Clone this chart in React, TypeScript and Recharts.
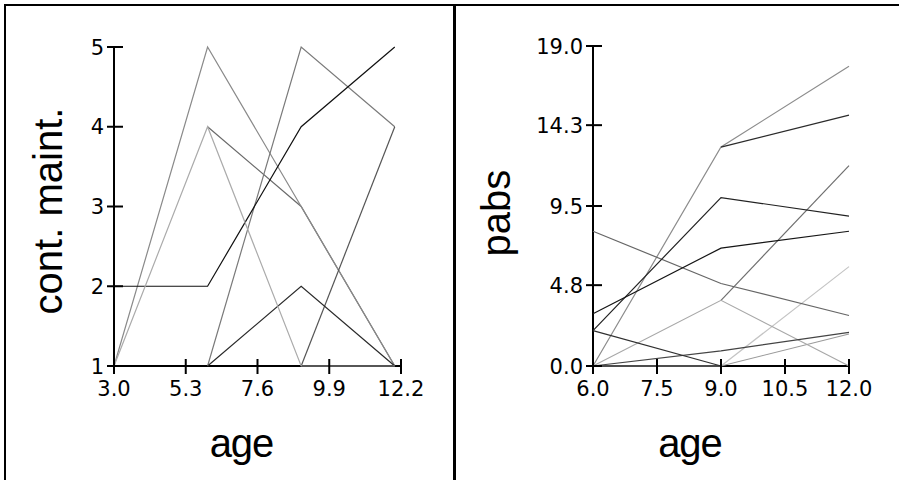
import React from 'react';
import { LineChart, Line, XAxis, YAxis, Label } from 'recharts';

// ---------- left panel: cont. maint. vs age ----------
const leftAges = [3, 6, 9, 12];
const leftXTicks = [3.0, 5.3, 7.6, 9.9, 12.2];
const leftYTicks = [1, 2, 3, 4, 5];
const contA = [2, 2, 4, 5];
const contB = [1, 5, 3, 1];
const contC = [null, 4, 3, 1];
const contD = [1, 4, 1, 1];
const contE = [null, 1, 5, 4];
const contF = [null, 1, 2, 1];
const contG = [null, null, 1, 4];
const leftSeries = [contC, contB, contE, contG, contF, contA, contD];
const leftColors = ['#6a6a6a', '#8a8a8a', '#7a7a7a', '#555555', '#2a2a2a', '#111111', '#ababab'];

// ---------- right panel: pabs vs age ----------
const rightAges = [6, 9, 12];
const rightXTicks = [6.0, 7.5, 9.0, 10.5, 12.0];
const rightYTicks = [0.0, 4.8, 9.5, 14.3, 19.0];
const pabsA = [0, 13.0, 17.8];
const pabsB = [null, 13.0, 14.9];
const pabsC = [2.1, 10.0, 8.9];
const pabsD = [3.1, 7.0, 8.0];
const pabsE = [8.0, 4.9, 3.0];
const pabsF = [2.1, 0, null];
const pabsG = [0, 0.9, 2.0];
const pabsH = [0, 3.9, 0];
const pabsI = [null, 3.9, 11.9];
const pabsJ = [null, 0, 5.9];
const pabsK = [0, 0, 1.9];
const rightSeries = [pabsA, pabsI, pabsJ, pabsK, pabsH, pabsE, pabsG, pabsF, pabsB, pabsC, pabsD];
const rightColors = ['#8c8c8c', '#6e6e6e', '#c4c4c4', '#9a9a9a', '#a8a8a8', '#666666', '#444444', '#303030', '#2a2a2a', '#222222', '#151515'];

const buildRows = (ages: number[], series: (number | null)[][]) =>
  ages.map((age, i) => {
    const row: any = { age };
    series.forEach((s, k) => {
      row['s' + k] = s[i];
    });
    return row;
  });

const leftData = buildRows(leftAges, leftSeries);
const rightData = buildRows(rightAges, rightSeries);

const TICK_FONT = 'DejaVu Sans, sans-serif';
const TITLE_FONT = 'Liberation Sans, Arial, sans-serif';

const makeYTick = (fmt: (v: number) => string) => (props: any) => {
  const { x, y, payload } = props;
  const ax = x + 10;
  return (
    <g>
      <line x1={ax - 7} x2={ax + 9} y1={y} y2={y} stroke="#000" strokeWidth={2} />
      <text x={x} y={y} dy={7.5} textAnchor="end" fontFamily={TICK_FONT} fontSize={21} fill="#000">
        {fmt(payload.value)}
      </text>
    </g>
  );
};

const makeXTick = (fmt: (v: number) => string) => (props: any) => {
  const { x, y, payload } = props;
  const ay = y - 14;
  return (
    <g>
      <line x1={x} x2={x} y1={ay - 7} y2={ay + 8} stroke="#000" strokeWidth={2} />
      <text x={x} y={y} dy={15.5} textAnchor="middle" fontFamily={TICK_FONT} fontSize={21} fill="#000">
        {fmt(payload.value)}
      </text>
    </g>
  );
};

const fmtInt = (v: number) => String(v);
const fmt1 = (v: number) => v.toFixed(1);

const xTitle = (dx: number) => (props: any) => {
  const vb = props.viewBox;
  return (
    <text
      x={vb.x + vb.width / 2 + dx}
      y={vb.y + 91}
      textAnchor="middle"
      fontFamily={TITLE_FONT}
      fontSize={40}
      letterSpacing={-1}
      fill="#000"
    >
      age
    </text>
  );
};

const yTitle = (text: string, dx: number, dy: number) => (props: any) => {
  const vb = props.viewBox;
  const cx = vb.x + dx;
  const cy = vb.y + vb.height / 2 + dy;
  return (
    <text
      x={cx}
      y={cy}
      transform={`rotate(-90, ${cx}, ${cy})`}
      textAnchor="middle"
      fontFamily={TITLE_FONT}
      fontSize={40}
      fill="#000"
    >
      {text}
    </text>
  );
};

export default function App() {
  return (
    <div style={{ position: 'absolute', left: 0, top: 0, width: 899, height: 480, background: '#fff', overflow: 'hidden' }}>
      {/* frame */}
      <div style={{ position: 'absolute', left: 4, top: 4, width: 895, height: 2, background: '#000' }} />
      <div style={{ position: 'absolute', left: 4, top: 4, width: 2, height: 476, background: '#000' }} />
      <div style={{ position: 'absolute', left: 453, top: 4, width: 3, height: 476, background: '#000' }} />

      <div style={{ position: 'absolute', left: 0, top: 0 }}>
        <LineChart width={450} height={480} data={leftData} margin={{ top: 47, right: 49, bottom: 14, left: 54 }}>
          <XAxis
            dataKey="age"
            type="number"
            domain={[3, 12.2]}
            ticks={leftXTicks}
            interval={0}
            height={100}
            tickSize={8}
            tickMargin={6}
            tickLine={false}
            axisLine={{ stroke: '#000', strokeWidth: 2 }}
            tick={makeXTick(fmt1)}
          >
            <Label content={xTitle(-16)} />
          </XAxis>
          <YAxis
            type="number"
            domain={[1, 5]}
            ticks={leftYTicks}
            interval={0}
            width={60}
            tickSize={7}
            tickMargin={3}
            tickLine={false}
            axisLine={{ stroke: '#000', strokeWidth: 2 }}
            tick={makeYTick(fmtInt)}
          >
            <Label content={yTitle('cont. maint.', 8, 4.5)} />
          </YAxis>
          {leftSeries.map((_, k) => (
            <Line
              key={k}
              dataKey={'s' + k}
              type="linear"
              stroke={leftColors[k]}
              strokeWidth={1.2}
              dot={false}
              activeDot={false}
              isAnimationActive={false}
              zIndex={600}
            />
          ))}
        </LineChart>
      </div>

      <div style={{ position: 'absolute', left: 450, top: 0 }}>
        <LineChart width={449} height={480} data={rightData} margin={{ top: 46, right: 50, bottom: 14, left: 83 }}>
          <XAxis
            dataKey="age"
            type="number"
            domain={[6, 12]}
            ticks={rightXTicks}
            interval={0}
            height={100}
            tickSize={8}
            tickMargin={6}
            tickLine={false}
            axisLine={{ stroke: '#000', strokeWidth: 2 }}
            tick={makeXTick(fmt1)}
          >
            <Label content={xTitle(-31)} />
          </XAxis>
          <YAxis
            type="number"
            domain={[0, 19]}
            ticks={rightYTicks}
            interval={0}
            width={60}
            tickSize={7}
            tickMargin={3}
            tickLine={false}
            axisLine={{ stroke: '#000', strokeWidth: 2 }}
            tick={makeYTick(fmt1)}
          >
            <Label content={yTitle('pabs', -23, 7)} />
          </YAxis>
          {rightSeries.map((_, k) => (
            <Line
              key={k}
              dataKey={'s' + k}
              type="linear"
              stroke={rightColors[k]}
              strokeWidth={1.2}
              dot={false}
              activeDot={false}
              isAnimationActive={false}
              zIndex={600}
            />
          ))}
        </LineChart>
      </div>
    </div>
  );
}
